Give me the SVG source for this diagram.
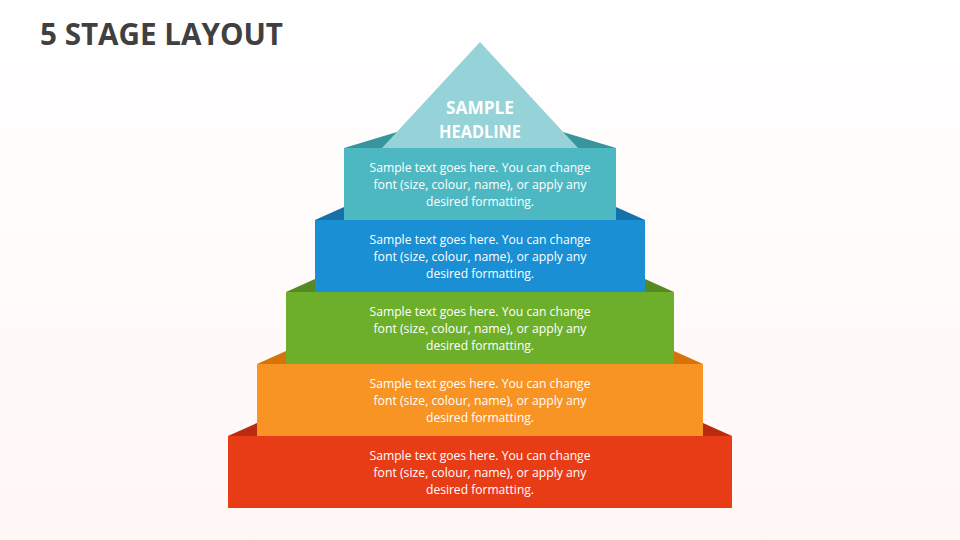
<svg xmlns="http://www.w3.org/2000/svg" width="960" height="540" viewBox="0 0 960 540">
<defs>
<linearGradient id="bg" x1="0" y1="0" x2="0" y2="1">
<stop offset="0" stop-color="#ffffff"/>
<stop offset="1" stop-color="#fff7f6"/>
</linearGradient>
<style>
.t{font-family:"Open Sans","Liberation Sans",sans-serif;font-size:12.5px;font-weight:500;fill:#ffffff;text-anchor:middle}
.h{font-family:"Open Sans","Liberation Sans",sans-serif;font-size:17px;font-weight:700;fill:#ffffff;text-anchor:middle}
.title{font-family:"Open Sans","Liberation Sans",sans-serif;font-size:30px;font-weight:700;fill:#404040}
</style>
</defs>
<rect width="960" height="540" fill="url(#bg)"/>
<text class="title" x="40" y="45" textLength="243" lengthAdjust="spacingAndGlyphs">5 STAGE LAYOUT</text>

<g id="stage5">
<polygon points="228,436 257,423 703,423 732,436" fill="#b82b11"/>
<rect x="228" y="436" width="504" height="72" fill="#e83c16"/>
<text class="t" x="480" y="460" textLength="221" lengthAdjust="spacingAndGlyphs">Sample text goes here. You can change</text>
<text class="t" x="480" y="477" textLength="213" lengthAdjust="spacingAndGlyphs">font (size, colour, name), or apply any</text>
<text class="t" x="480" y="494" textLength="108" lengthAdjust="spacingAndGlyphs">desired formatting.</text>
</g>
<g id="stage4">
<polygon points="257,364 286,351 674,351 703,364" fill="#d87407"/>
<rect x="257" y="364" width="446" height="72" fill="#f79424"/>
<text class="t" x="480" y="388" textLength="221" lengthAdjust="spacingAndGlyphs">Sample text goes here. You can change</text>
<text class="t" x="480" y="405" textLength="213" lengthAdjust="spacingAndGlyphs">font (size, colour, name), or apply any</text>
<text class="t" x="480" y="422" textLength="108" lengthAdjust="spacingAndGlyphs">desired formatting.</text>
</g>
<g id="stage3">
<polygon points="286,292 315,279 645,279 674,292" fill="#558a22"/>
<rect x="286" y="292" width="388" height="72" fill="#6daf2a"/>
<text class="t" x="480" y="316" textLength="221" lengthAdjust="spacingAndGlyphs">Sample text goes here. You can change</text>
<text class="t" x="480" y="333" textLength="213" lengthAdjust="spacingAndGlyphs">font (size, colour, name), or apply any</text>
<text class="t" x="480" y="350" textLength="108" lengthAdjust="spacingAndGlyphs">desired formatting.</text>
</g>
<g id="stage2">
<polygon points="315,220 344,207 616,207 645,220" fill="#1571a8"/>
<rect x="315" y="220" width="330" height="72" fill="#1a8fd4"/>
<text class="t" x="480" y="244" textLength="221" lengthAdjust="spacingAndGlyphs">Sample text goes here. You can change</text>
<text class="t" x="480" y="261" textLength="213" lengthAdjust="spacingAndGlyphs">font (size, colour, name), or apply any</text>
<text class="t" x="480" y="278" textLength="108" lengthAdjust="spacingAndGlyphs">desired formatting.</text>
</g>
<g id="stage1">
<polygon points="344,148 397,132 563,132 616,148" fill="#38959c"/>
<polygon points="480,42 382,148 578,148" fill="#96d3d9"/>
<text class="h" x="480" y="114" textLength="68" lengthAdjust="spacingAndGlyphs">SAMPLE</text>
<text class="h" x="480" y="138" textLength="82" lengthAdjust="spacingAndGlyphs">HEADLINE</text>
<rect x="344" y="148" width="272" height="72" fill="#4eb8c2"/>
<text class="t" x="480" y="172" textLength="221" lengthAdjust="spacingAndGlyphs">Sample text goes here. You can change</text>
<text class="t" x="480" y="189" textLength="213" lengthAdjust="spacingAndGlyphs">font (size, colour, name), or apply any</text>
<text class="t" x="480" y="206" textLength="108" lengthAdjust="spacingAndGlyphs">desired formatting.</text>
</g>
<g id="connectors"></g>
</svg>
